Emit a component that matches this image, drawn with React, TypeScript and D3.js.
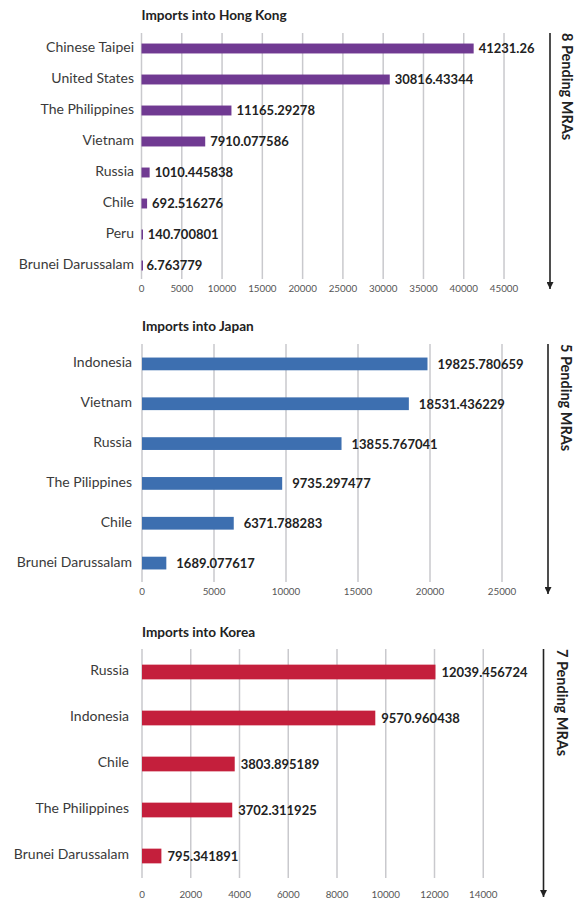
import React from "react";
import * as d3 from "d3";

const hkCategories = ["Chinese Taipei", "United States", "The Philippines", "Vietnam", "Russia", "Chile", "Peru", "Brunei Darussalam"];
const hkValues = [41231.26, 30816.43344, 11165.29278, 7910.077586, 1010.445838, 692.516276, 140.700801, 6.763779];
const hkTicks = [0, 5000, 10000, 15000, 20000, 25000, 30000, 35000, 40000, 45000];

const jpCategories = ["Indonesia", "Vietnam", "Russia", "The Pilippines", "Chile", "Brunei Darussalam"];
const jpValues = [19825.780659, 18531.436229, 13855.767041, 9735.297477, 6371.788283, 1689.077617];
const jpTicks = [0, 5000, 10000, 15000, 20000, 25000];

const krCategories = ["Russia", "Indonesia", "Chile", "The Philippines", "Brunei Darussalam"];
const krValues = [12039.456724, 9570.960438, 3803.895189, 3702.311925, 795.341891];
const krTicks = [0, 2000, 4000, 6000, 8000, 10000, 12000, 14000];

const titles = ["Imports into Hong Kong", "Imports into Japan", "Imports into Korea"];
const pendingLabels = ["8 Pending MRAs", "5 Pending MRAs", "7 Pending MRAs"];

const FONT = "Lato, 'Open Sans', sans-serif";

type PanelProps = {
  title: string;
  pending: string;
  categories: string[];
  values: number[];
  ticks: number[];
  domainMax: number;
  x0: number;
  x1: number;
  top: number;
  bottom: number;
  gridBottom: number;
  tickY: number;
  titleY: number;
  color: string;
  gap: number;
  labelX: number;
  arrowX: number;
  arrowEnd: number;
  textX: number;
};

function Panel(p: PanelProps) {
  const x = d3.scaleLinear().domain([0, p.domainMax]).range([p.x0, p.x1]);
  const y = d3.scaleBand<string>().domain(p.categories).range([p.top, p.bottom]).paddingInner(0.68).paddingOuter(0.34);
  const data = p.categories.map((c, i) => ({ c, v: p.values[i] }));
  const markerId = "arrow-" + p.title.replace(/\s+/g, "");
  return (
    <g>
      <text x={p.x0} y={p.titleY} fontFamily={FONT} fontWeight={700} fontSize={13.6} fill="#222">{p.title}</text>
      {p.ticks.map((t) => (
        <g key={t}>
          <line x1={x(t)} x2={x(t)} y1={p.top} y2={p.gridBottom} stroke="#c9c9cd" strokeWidth={1.5} />
          <text x={x(t)} y={p.tickY} textAnchor="middle" fontFamily={FONT} fontSize={9.8} fill="#555">{t}</text>
        </g>
      ))}
      {data.map((d) => {
        const by = y(d.c) as number;
        const cy = by + y.bandwidth() / 2;
        return (
          <g key={d.c}>
            <rect x={x(0)} y={by} width={Math.max(1.5, x(d.v) - x(0))} height={y.bandwidth()} fill={p.color} />
            <text x={p.labelX} y={cy - 1} dy="0.32em" textAnchor="end" fontFamily={FONT} fontSize={14} fill="#3a3a3a">{d.c}</text>
            <text x={x(d.v) + p.gap} y={cy} dy="0.38em" fontFamily={FONT} fontWeight={700} fontSize={13} fill="#222">{String(d.v)}</text>
          </g>
        );
      })}
      <defs>
        <marker id={markerId} viewBox="0 0 10 10" refX={10} refY={5} markerWidth={7} markerHeight={7} markerUnits="userSpaceOnUse" orient="auto">
          <path d="M0,0 L10,5 L0,10 z" fill="#222" />
        </marker>
      </defs>
      <line x1={p.arrowX} x2={p.arrowX} y1={p.top} y2={p.arrowEnd} stroke="#222" strokeWidth={1.6} markerEnd={`url(#${markerId})`} />
      <text transform={`translate(${p.textX},${p.top}) rotate(90)`} dy="0.35em" fontFamily={FONT} fontWeight={700} fontSize={14.5} fill="#222">{p.pending}</text>
    </g>
  );
}

export default function App() {
  return (
    <svg width={582} height={899} style={{ position: "absolute", left: 0, top: 0, background: "#fff" }}>
      <Panel title={titles[0]} pending={pendingLabels[0]} categories={hkCategories} values={hkValues} ticks={hkTicks}
        domainMax={50000} x0={141.5} x1={544.3} top={33} bottom={281} gridBottom={279} tickY={292} titleY={20}
        color="#703a92" gap={5} labelX={134} arrowX={550} arrowEnd={289} textX={567} />
      <Panel title={titles[1]} pending={pendingLabels[1]} categories={jpCategories} values={jpValues} ticks={jpTicks}
        domainMax={30000} x0={142} x1={574} top={344} bottom={583} gridBottom={582} tickY={595} titleY={331}
        color="#3d6fb0" gap={10} labelX={132} arrowX={548} arrowEnd={594} textX={566} />
      <Panel title={titles[2]} pending={pendingLabels[2]} categories={krCategories} values={krValues} ticks={krTicks}
        domainMax={16000} x0={142} x1={532} top={649} bottom={879} gridBottom={878} tickY={898} titleY={637}
        color="#c41f3c" gap={6} labelX={129} arrowX={543.5} arrowEnd={897} textX={562} />
    </svg>
  );
}
